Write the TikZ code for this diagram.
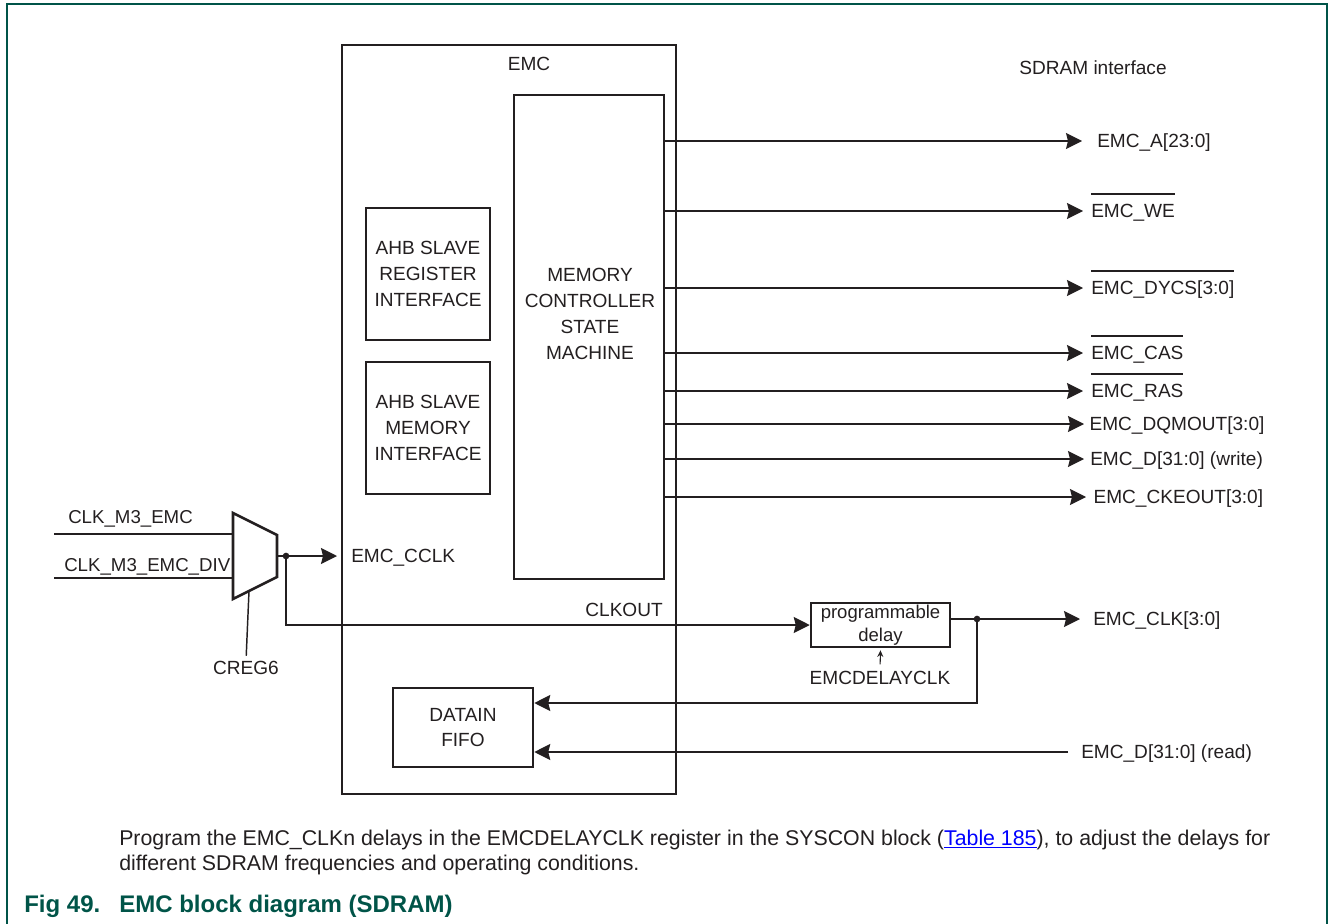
\documentclass[tikz,border=0pt]{standalone}
\usepackage{fontspec}
\setmainfont{Liberation Sans}
\usepackage{tikz}
\usetikzlibrary{arrows.meta,positioning}

\definecolor{ink}{RGB}{35,31,32}
\definecolor{nxpgreen}{RGB}{0,84,72}
\definecolor{linkblue}{RGB}{0,0,255}

\newcommand\pxu{0.75pt}
\newcommand\dgmfont{\fontsize{14.3}{19.2}\selectfont}
\newcommand\ovl[1]{\setbox0=\hbox{#1}\rlap{\raisebox{17pt}{\rule{\wd0}{1.2pt}}}\box0}

\begin{document}
\begin{tikzpicture}[x=\pxu, y=-\pxu, >=Stealth,
  box/.style={rectangle, draw=ink, line width=1.9pt, inner sep=0pt, align=center, font=\dgmfont, text=ink},
  lbl/.style={font=\dgmfont, text=ink, inner sep=0pt, text height=10pt, text depth=0pt},
  outlbl/.style={lbl, anchor=west, inner xsep=#1},
  sig/.style={draw=ink, line width=1.1pt},
  sigarr/.style={sig, -{Stealth[length=12pt, width=12pt, inset=1.5pt]}},
  junction/.style={circle, fill=ink, inner sep=0pt, minimum size=5pt}]

  \useasboundingbox (0,0) rectangle (1328,924);

  % figure frame
  \draw[nxpgreen, line width=1.5pt] (7,924) -- (7,4) -- (1327,4) -- (1327,924);

  % EMC block
  \node[box, line width=2.2pt, minimum width=334*\pxu, minimum height=749*\pxu] (emc) at (509,419.5) {};
  \node[lbl] (emclbl) at (529,64) {EMC};

  % Memory controller state machine
  \node[box, minimum width=150*\pxu, minimum height=484*\pxu] (msm) at (589,337) {};
  \node[inner sep=0pt, align=center, text=ink, font=\fontsize{14.3}{19.5}\selectfont] (msmtxt) at (590,314) {MEMORY\\CONTROLLER\\STATE\\MACHINE};

  % AHB slave blocks
  \node[box, minimum width=124*\pxu, minimum height=132*\pxu] (ahbreg) at (428,274) {AHB SLAVE\\REGISTER\\INTERFACE};
  \node[box, minimum width=124*\pxu, minimum height=132*\pxu] (ahbmem) at (428,428) {AHB SLAVE\\MEMORY\\INTERFACE};

  % Data in FIFO
  \node[box, minimum width=140*\pxu, minimum height=79*\pxu] (fifo) at (463,727.5) {DATAIN\\FIFO};

  % Programmable delay
  \node[box, minimum width=139*\pxu, minimum height=44*\pxu, font=\fontsize{13.9}{17.25}\selectfont] (pd) at (880.5,625) {programmable\\delay};
  \node[lbl] (dlyclk) at (880,678) {EMCDELAYCLK};

  % SDRAM interface signals
  \node[lbl] (sdram) at (1093,68) {SDRAM interface};
  \node[outlbl=11.25pt] (lA) at (1082,141) {EMC\_A[23:0]};
  \node[outlbl=6pt] (lWE) at (1083,211) {\ovl{EMC\_WE}};
  \node[outlbl=6pt] (lCS) at (1083,288) {\ovl{EMC\_DYCS[3:0]}};
  \node[outlbl=6pt] (lCAS) at (1083,353) {\ovl{EMC\_CAS}};
  \node[outlbl=6pt] (lRAS) at (1083,391) {\ovl{EMC\_RAS}};
  \node[outlbl=4pt] (lDQM) at (1084,424) {EMC\_DQMOUT[3:0]};
  \node[outlbl=4.5pt] (lDW) at (1084,459) {EMC\_D[31:0] (write)};
  \node[outlbl=5.5pt] (lCKE) at (1086,497) {EMC\_CKEOUT[3:0]};
  \node[outlbl=9.75pt] (lCLK) at (1080,619) {EMC\_CLK[3:0]};
  \node[outlbl=9.75pt] (lRD) at (1068,752) {EMC\_D[31:0] (read)};

  % clock select mux
  \draw[ink, line width=1.9pt] (233,513) -- (277,535) -- (277,577) -- (233,599) -- cycle;
  \coordinate (mxi1) at (233,534);
  \coordinate (mxi2) at (233,578);
  \coordinate (mxo) at (277,556);
  \coordinate (mxs) at (249,591);
  \coordinate (clkA) at (54,534);
  \coordinate (clkB) at (54,578);
  \node[lbl, anchor=west, font=\fontsize{14}{19}\selectfont] (lclkA) at (68,517) {CLK\_M3\_EMC};
  \node[lbl, anchor=west, font=\fontsize{14}{19}\selectfont] (lclkB) at (64,565) {CLK\_M3\_EMC\_DIV};
  \node[lbl] (creg) at (246,668) {CREG6};
  \node[outlbl=10.5pt] (cclk) at (337,556) {EMC\_CCLK};
  \node[lbl, anchor=east] (clkout) at (663,610) {CLKOUT};
  \node[junction] (split) at (286,556) {};
  \node[junction] (tap) at (977,619) {};
  \coordinate (fbk) at (977,703);

  % connections
  \draw[sig] (clkA) -- (mxi1);
  \draw[sig] (clkB) -- (mxi2);
  \draw[sig, shorten >=4pt] (mxs) -- (creg.north);
  \draw[sigarr] (mxo) -- (cclk.west);
  \draw[sigarr] (split.center) |- (pd.west);
  \draw[sigarr] (pd.east |- lCLK) -- (lCLK.west);
  \draw[sigarr] (tap.center) -- (fbk) -- (fifo.east |- fbk);
  \draw[sigarr] (lRD.west) -- (fifo.east |- lRD);
  \draw[draw=ink, line width=0.8pt, -{Stealth[length=5pt, width=4.5pt]}, shorten <=5pt, shorten >=1.5pt] (dlyclk.north) -- (pd.south);
  \foreach \l in {lA,lWE,lCS,lCAS,lRAS,lDQM,lDW,lCKE}
    \draw[sigarr] (msm.east |- \l) -- (\l.west);

  % caption
  \node[anchor=west, inner sep=0pt, align=left, text=ink, font=\fontsize{16}{19}\selectfont] (note) at (119,852.5)
    {Program the EMC\_CLKn delays in the EMCDELAYCLK register in the SYSCON block (\textcolor{linkblue}{\underline{Table 185}}), to adjust the delays for\\different SDRAM frequencies and operating conditions.};
  \node[anchor=west, inner sep=0pt, text=nxpgreen, font=\bfseries\fontsize{18}{20}\selectfont] (title) at (24,906)
    {\makebox[71.25pt][l]{Fig 49.}EMC block diagram (SDRAM)};
\end{tikzpicture}
\end{document}
